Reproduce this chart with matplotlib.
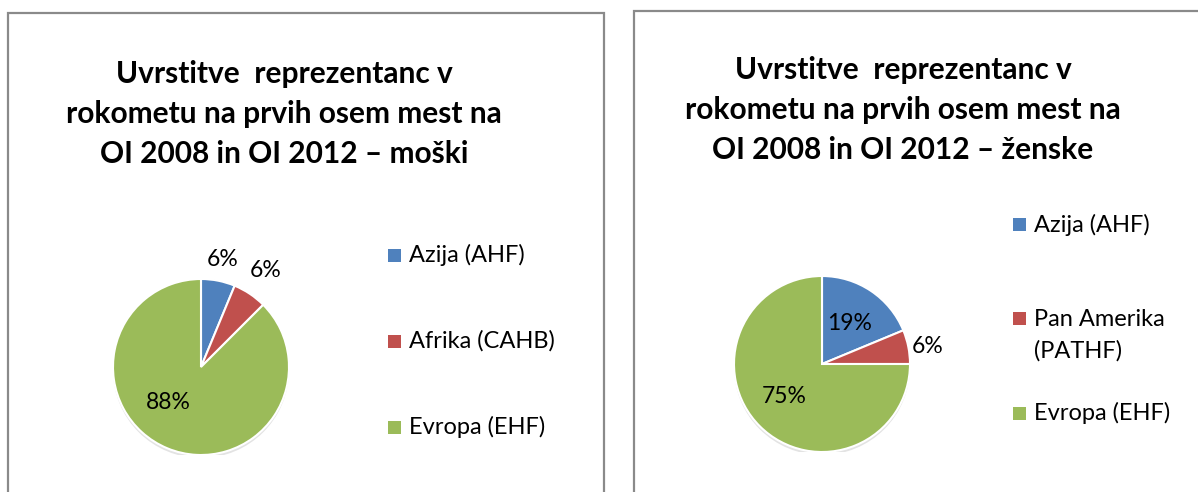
import numpy as np
import matplotlib
matplotlib.use('Agg')
import matplotlib.pyplot as plt
from matplotlib.patches import Rectangle, Circle

plt.rcParams['font.family'] = ['Lato', 'DejaVu Sans']

# data: placements in top eight at OG 2008 + OG 2012 (16 places per gender)
men_labels = ['Azija (AHF)', 'Afrika (CAHB)', 'Evropa (EHF)']
men_counts = [1, 1, 14]
women_labels = ['Azija (AHF)', 'Pan Amerika\n(PATHF)', 'Evropa (EHF)']
women_counts = [3, 1, 12]
colors = ['#4F81BD', '#C0504D', '#9BBB59']

title_men = 'Uvrstitve  reprezentanc v\nrokometu na prvih osem mest na\nOI 2008 in OI 2012 \u2013 mo\u0161ki'
title_women = 'Uvrstitve  reprezentanc v\nrokometu na prvih osem mest na\nOI 2008 in OI 2012 \u2013 \u017eenske'

W, H = 1198, 492
fig = plt.figure(figsize=(W / 100, H / 100), dpi=100)


def px(x, y):
    # pixel (from top-left) -> figure fraction
    return x / W, 1 - y / H


# panel frames
for x0, y0, x1 in [(8, 13, 604), (634, 11, 1220)]:
    fx, fy = px(x0, y0)
    fig.add_artist(Rectangle((fx, -0.05), (x1 - x0) / W, fy + 0.05,
                             transform=fig.transFigure, fill=False,
                             ec='#8a8a8a', lw=1.6))


def draw_pie(cx, cy, r, counts, dists, nudges):
    ax = fig.add_axes([(cx - r) / W, (H - cy - r) / H, 2 * r / W, 2 * r / H])
    ax.add_patch(Circle((0, -0.035), 1.0, color='#b0b0b0', alpha=0.35, lw=0, zorder=0))
    wedges, _ = ax.pie(counts, colors=colors, startangle=90, counterclock=False,
                       radius=1, wedgeprops=dict(edgecolor='white', linewidth=1.5))
    total = sum(counts)
    for w, c, d, n in zip(wedges, counts, dists, nudges):
        ang = np.deg2rad((w.theta1 + w.theta2) / 2 + n)
        ax.text(d * np.cos(ang), d * np.sin(ang), '%d%%' % round(100 * c / total),
                ha='center', va='center', fontsize=16.5, color='black', clip_on=False)
    ax.set_xlim(-1, 1)
    ax.set_ylim(-1, 1)
    ax.set_aspect('equal')
    ax.axis('off')
    return wedges


def draw_legend(x, ys, labels):
    # ys: centre of the first text line of each entry (pixels from top)
    for y, lab, col in zip(ys, labels, colors):
        fx, fy = px(x, y)
        fig.add_artist(Rectangle((fx, fy - 6.5 / H), 13 / W, 13 / H,
                                 transform=fig.transFigure, fc=col, ec='none'))
        if '\n' in lab:
            fig.text(fx + 21 / W, fy + 9 / H, lab, ha='left', va='top',
                     fontsize=17, linespacing=1.55, transform=fig.transFigure)
        else:
            fig.text(fx + 21 / W, fy, lab, ha='left', va='center',
                     fontsize=17, transform=fig.transFigure)


draw_pie(201, 367, 88, men_counts, [1.25, 1.32, 0.55], [0, 0, -20])
draw_pie(822, 364, 88, women_counts, [0.56, 1.22, 0.57], [0, -2, -4])

fig.text(*px(284, 114), title_men, ha='center', va='center', fontsize=21.5,
         fontweight='bold', linespacing=1.52)
fig.text(*px(903, 110), title_women, ha='center', va='center', fontsize=21.5,
         fontweight='bold', linespacing=1.52)

draw_legend(388, [255, 341, 427], men_labels)
draw_legend(1013, [225, 318, 413], women_labels)

fig.savefig('out.png', dpi=100)
